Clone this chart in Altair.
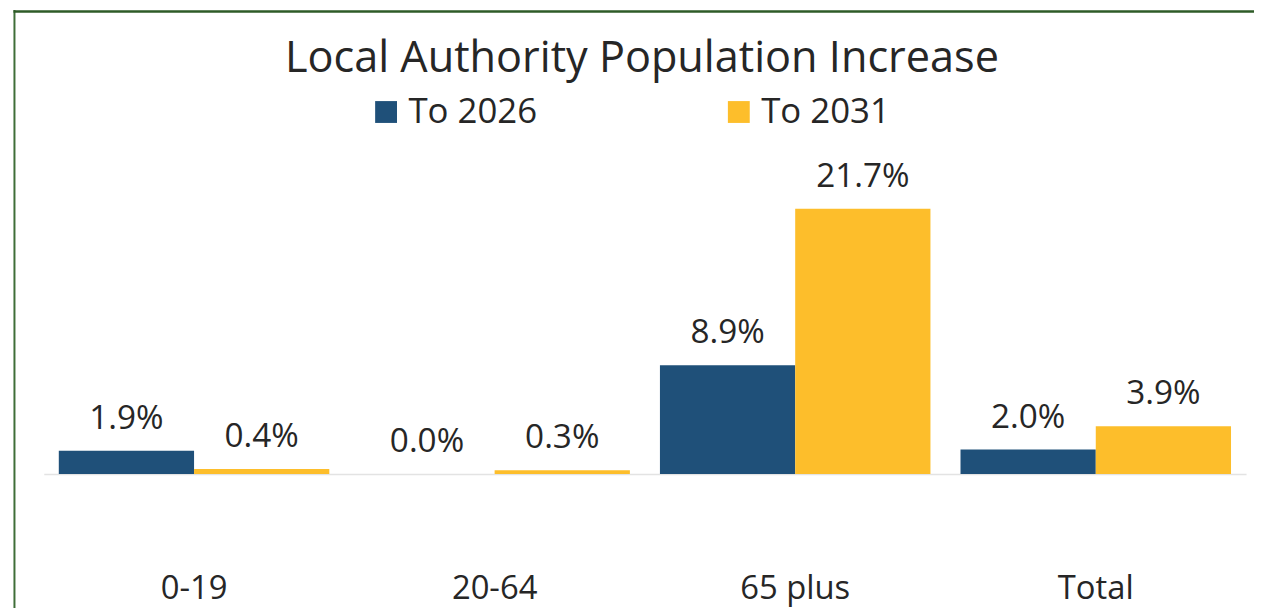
import altair as alt
import pandas as pd

categories = ["0-19", "20-64", "65 plus", "Total"]
series = ["To 2026", "To 2031"]
to_2026 = [1.9, 0.0, 8.9, 2.0]
to_2031 = [0.4, 0.3, 21.7, 3.9]
colors = ["#1F5079", "#FDBE2B"]
title_text = "Local Authority Population Increase"

rows = []
for c, a, b in zip(categories, to_2026, to_2031):
    rows.append({"category": c, "series": series[0], "value": a})
    rows.append({"category": c, "series": series[1], "value": b})
df = pd.DataFrame(rows)

FONT = "Open Sans"
TXT = "#262626"
W = 1210

x = alt.X(
    "category:N",
    sort=categories,
    scale=alt.Scale(paddingInner=0.1, paddingOuter=0.05),
    axis=alt.Axis(
        title=None, domain=False, ticks=False, grid=False,
        labelAngle=0, labelFontSize=33, labelFont=FONT, labelColor=TXT,
        labelPadding=39, labelBaseline="alphabetic",
    ),
)
xo = alt.XOffset("series:N", sort=series)
y = alt.Y(
    "value:Q",
    scale=alt.Scale(domain=[-7, 27], nice=False, zero=False),
    axis=alt.Axis(
        values=[0], grid=True, gridColor="#E3E3E3", gridWidth=1.5,
        domain=False, ticks=False, labels=False, title=None,
    ),
)

base = alt.Chart(df)

bars = base.mark_bar().encode(
    x=x, xOffset=xo, y=y, y2=alt.datum(0),
    color=alt.Color(
        "series:N",
        scale=alt.Scale(domain=series, range=colors),
        legend=alt.Legend(
            title=None, orient="none", legendX=327, legendY=-50,
            direction="horizontal", symbolType="square", symbolSize=484,
            symbolStrokeWidth=0, labelFontSize=35, labelFont=FONT,
            labelColor=TXT, columnPadding=185, labelOffset=5, padding=0,
        ),
    ),
)

labels = base.transform_calculate(
    label="format(datum.value, '.1f') + '%'"
).mark_text(
    baseline="alphabetic", dy=-22, fontSize=33.5, font=FONT, color=TXT
).encode(x=x, xOffset=xo, y=y, text="label:N")

one = pd.DataFrame({"title": [title_text]})
title = alt.Chart(one).mark_text(
    fontSize=43.5, font=FONT, color=TXT, align="center", baseline="alphabetic"
).encode(x=alt.value(602), y=alt.value(-73), text="title:N")

border_left = alt.Chart(one).mark_rule(color="#3F6E38", strokeWidth=2).encode(
    x=alt.value(-29.5), y=alt.value(-135), y2=alt.value(470)
)
border_top = alt.Chart(one).mark_rule(color="#2E5B27", strokeWidth=2.5).encode(
    x=alt.value(-30.5), x2=alt.value(W + 20), y=alt.value(-133.5)
)

chart = alt.layer(bars, labels, title, border_left, border_top).properties(
    width=W,
    height=418,
    autosize=alt.AutoSizeParams(type="none"),
    padding={"left": 36, "top": 135, "right": 8, "bottom": 47},
).configure_view(stroke=None)

chart.save("out.html", embed_options={"renderer": "svg", "actions": False})
